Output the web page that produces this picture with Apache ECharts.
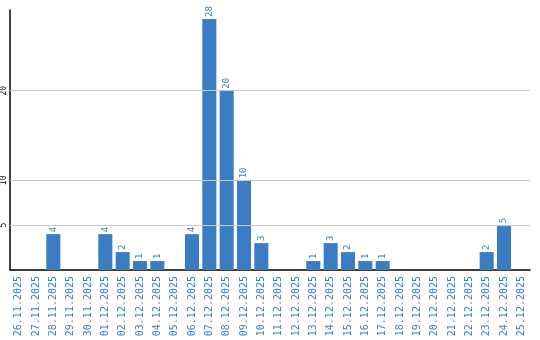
<!DOCTYPE html>
<html><head><meta charset="utf-8">
<script src="https://cdn.jsdelivr.net/npm/echarts@6/dist/echarts.min.js"></script>
<style>html,body{margin:0;padding:0;background:#fff}#c{width:540px;height:340px}</style>
</head><body><div id="c"></div>
<script>
const categories = ["26.11.2025","27.11.2025","28.11.2025","29.11.2025","30.11.2025","01.12.2025","02.12.2025","03.12.2025","04.12.2025","05.12.2025","06.12.2025","07.12.2025","08.12.2025","09.12.2025","10.12.2025","11.12.2025","12.12.2025","13.12.2025","14.12.2025","15.12.2025","16.12.2025","17.12.2025","18.12.2025","19.12.2025","20.12.2025","21.12.2025","22.12.2025","23.12.2025","24.12.2025","25.12.2025"];
const values = [0,0,4,0,0,4,2,1,1,0,4,28,20,10,3,0,0,1,3,2,1,1,0,0,0,0,0,2,5,0];
const yTicks = [5,10,20];
const chart = echarts.init(document.getElementById('c'), null, {renderer:'canvas'});
const blue = '#3b7dc3';
chart.setOption({
  animation:false,
  grid:{left:10,right:10,top:10,bottom:70,containLabel:false},
  xAxis:{type:'category',data:categories,
    axisLine:{lineStyle:{color:'#000',width:1.5}},axisTick:{show:false},
    axisLabel:{rotate:90,interval:0,color:blue,fontFamily:'DejaVu Sans Mono',fontSize:10,margin:6}},
  yAxis:{type:'value',min:0,max:29,interval:5,
    axisLine:{show:true,lineStyle:{color:'#000',width:1.5}},axisTick:{show:false},
    splitLine:{show:false},
    axisLabel:{rotate:90,color:'#000',fontFamily:'DejaVu Sans Mono',fontSize:8,margin:2,
      formatter:v=>yTicks.includes(v)?String(v):''}},
  series:[{type:'bar',data:values,barCategoryGap:'19%',itemStyle:{color:blue},
    label:{show:true,position:'top',rotate:90,align:'left',verticalAlign:'middle',distance:2,
      color:blue,fontFamily:'DejaVu Sans Mono',fontSize:9,
      formatter:p=>p.value?String(p.value):''},
    markLine:{silent:true,symbol:'none',label:{show:false},
      lineStyle:{color:'#c8c8c8',type:'solid',width:1},
      data:yTicks.map(v=>({yAxis:v}))},
    z:3}]
});
</script></body></html>
